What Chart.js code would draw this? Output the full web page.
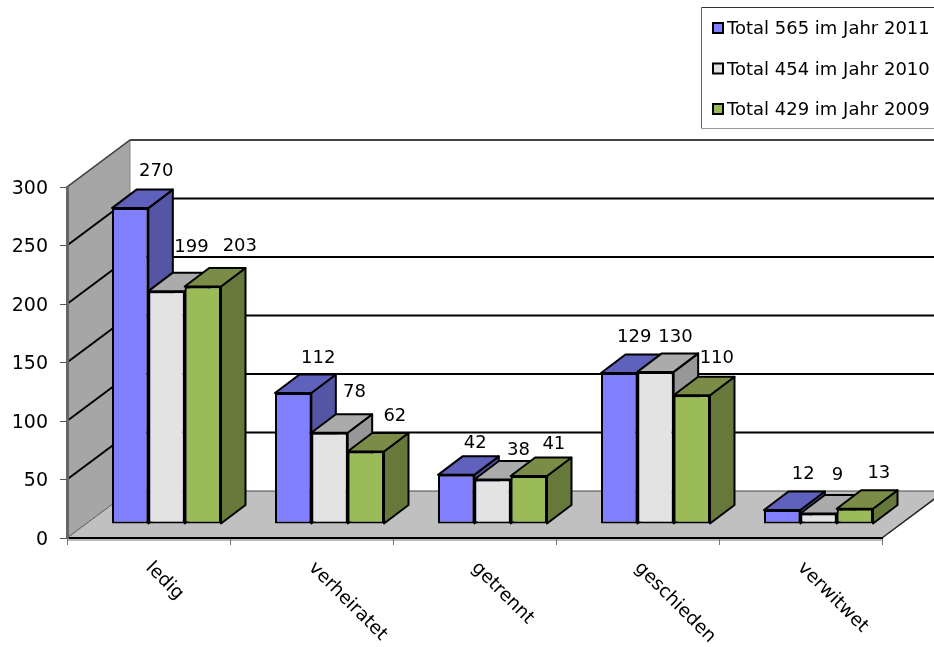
<!DOCTYPE html>
<html>
<head>
<meta charset="utf-8">
<title>Familienstand</title>
<script src="https://cdn.jsdelivr.net/npm/chart.js@4"></script>
<style>
    body { margin: 0; background: #fff; }
    canvas { display: block; }
</style>
</head>
<body>
<canvas id="statusChart" width="934" height="647"></canvas>
<script>
const categories = ['ledig', 'verheiratet', 'getrennt', 'geschieden', 'verwitwet'];
const seriesLabels = ['Total 565 im Jahr 2011', 'Total 454 im Jahr 2010', 'Total 429 im Jahr 2009'];
const values2011 = [270, 112, 42, 129, 12];
const values2010 = [199, 78, 38, 130, 9];
const values2009 = [203, 62, 41, 110, 13];

const fontFamily = '"DejaVu Sans", sans-serif';
const frontColors = ['#8080ff', '#e3e3e3', '#9bbb59'];
const topColors = ['#6060bd', '#ababab', '#7a8c45'];
const sideColors = ['#5555a6', '#979797', '#66783a'];

// depth of the floor, where the bars stand on it, and how deep one bar is
const wall = { dx: 63, dy: -47 };
const barShift = { dx: 18, dy: -14 };
const barDepth = { dx: 24.5, dy: -18.5 };

// hand-placed value labels: [x, y] moved from the default spot, per series and category
const labelNudges = [
    [[2, -1], [1, 1], [-5, 4], [-9, 0], [-3, 0]],
    [[1, -8], [1, -4], [2, 7], [-4, 1], [-5, -2]],
    [[13, -4], [5, 1], [1, 4], [1, -1], [0, 1]]
];

function polygon(ctx, points, fill, stroke, lineWidth) {
    ctx.beginPath();
    points.forEach(([x, y], i) => (i ? ctx.lineTo(x, y) : ctx.moveTo(x, y)));
    ctx.closePath();
    ctx.fillStyle = fill;
    ctx.fill();
    if (stroke) {
        ctx.strokeStyle = stroke;
        ctx.lineWidth = lineWidth;
        ctx.stroke();
    }
}

function line(ctx, x1, y1, x2, y2, color, width) {
    ctx.beginPath();
    ctx.moveTo(x1, y1);
    ctx.lineTo(x2, y2);
    ctx.strokeStyle = color;
    ctx.lineWidth = width;
    ctx.stroke();
}

const box3d = {
    id: 'box3d',
    // left wall, floor and grid lines behind everything
    beforeDraw(chart) {
        const { ctx, chartArea: { left, right, top, bottom }, scales: { y } } = chart;
        ctx.save();
        polygon(ctx, [[left, top], [left + wall.dx, top + wall.dy], [left + wall.dx, bottom + wall.dy], [left, bottom]], '#a6a6a6');
        polygon(ctx, [[left, bottom], [left + wall.dx, bottom + wall.dy], [right + wall.dx, bottom + wall.dy], [right, bottom]], '#c0c0c0');
        line(ctx, left + wall.dx, bottom + wall.dy, right + wall.dx, bottom + wall.dy, '#444', 1);
        line(ctx, right, bottom, right + wall.dx, bottom + wall.dy, '#222', 1.5);
        line(ctx, left, bottom, left + wall.dx, bottom + wall.dy, '#555', 1);
        line(ctx, left, top, left + wall.dx, top + wall.dy, '#666', 1.5);
        line(ctx, left + wall.dx, top + wall.dy, left + wall.dx, bottom + wall.dy, '#888', 1);
        y.ticks.forEach(({ value }) => {
            if (value === 0) return;
            const py = y.getPixelForValue(value);
            const color = value === 300 ? '#444' : '#000';
            line(ctx, left, py, left + wall.dx, py + wall.dy, color, value === 300 ? 1.5 : 2);
            line(ctx, left + wall.dx, py + wall.dy, right + wall.dx, py + wall.dy, color, 2);
        });
        line(ctx, left, bottom + 2, right, bottom + 2, '#bbb', 2);
        ctx.restore();
    },
    // replaced by beforeDatasetsDraw so that the series paint left to right
    beforeDatasetDraw() {
        return false;
    },
    beforeDatasetsDraw(chart) {
        const { ctx } = chart;
        chart.getSortedVisibleDatasetMetas().forEach((meta) => {
            ctx.save();
            ctx.translate(barShift.dx, barShift.dy);
            meta.controller.draw();
            meta.data.forEach((bar) => {
                const { x, y, base, width } = bar.getProps(['x', 'y', 'base', 'width'], true);
                const l = x - width / 2;
                const r = x + width / 2;
                const { dx, dy } = barDepth;
                ctx.lineJoin = 'round';
                polygon(ctx, [[r, y], [r + dx, y + dy], [r + dx, base + dy], [r, base]], sideColors[meta.index], '#000', 2);
                polygon(ctx, [[l, y], [l + dx, y + dy], [r + dx, y + dy], [r, y]], topColors[meta.index], '#000', 2);
            });
            ctx.restore();
        });
    },
    afterDraw(chart) {
        const { ctx, scales: { x, y } } = chart;
        ctx.save();
        ctx.fillStyle = '#000';

        // value labels above each bar
        ctx.font = `18px ${fontFamily}`;
        ctx.textAlign = 'center';
        ctx.textBaseline = 'middle';
        chart.getSortedVisibleDatasetMetas().forEach((meta) => {
            meta.data.forEach((bar, i) => {
                const value = chart.data.datasets[meta.index].data[i];
                const [nx, ny] = labelNudges[meta.index][i];
                ctx.fillText(String(value), bar.x + barShift.dx + 24 + nx, bar.y + barShift.dy - 36 + ny);
            });
        });

        // y tick labels, set a touch below the middle baseline
        ctx.font = `19px ${fontFamily}`;
        ctx.textAlign = 'right';
        y.ticks.forEach((tick) => {
            ctx.fillText(tick.label, 48, y.getPixelForValue(tick.value) + 2);
        });

        // slanted category names
        ctx.font = `18.5px ${fontFamily}`;
        ctx.textAlign = 'left';
        categories.forEach((name, i) => {
            ctx.save();
            ctx.translate(x.getPixelForTick(i), 565);
            ctx.rotate(Math.PI / 4);
            ctx.fillText(name, 0, 0);
            ctx.restore();
        });

        // legend box in the top right corner
        ctx.fillStyle = '#fff';
        ctx.fillRect(701.5, 7.5, 240, 121);
        line(ctx, 701.5, 7.5, 934, 7.5, '#333', 1);
        line(ctx, 701.5, 7.5, 701.5, 128.5, '#666', 1);
        line(ctx, 701.5, 128.5, 934, 128.5, '#999', 1);
        ctx.font = `18px ${fontFamily}`;
        ctx.textBaseline = 'alphabetic';
        seriesLabels.forEach((label, i) => {
            const rowY = 29 + i * 40.5;
            ctx.fillStyle = frontColors[i];
            ctx.fillRect(713, rowY - 6, 10, 10);
            ctx.strokeStyle = '#000';
            ctx.lineWidth = 2;
            ctx.strokeRect(713, rowY - 6, 10, 10);
            ctx.fillStyle = '#000';
            ctx.fillText(label, 727, rowY + 5);
        });
        ctx.restore();
    }
};

new Chart(document.getElementById('statusChart'), {
    type: 'bar',
    data: {
        labels: categories,
        datasets: [
            { label: seriesLabels[0], data: values2011, backgroundColor: frontColors[0] },
            { label: seriesLabels[1], data: values2010, backgroundColor: frontColors[1] },
            { label: seriesLabels[2], data: values2009, backgroundColor: frontColors[2] }
        ]
    },
    options: {
        responsive: false,
        animation: false,
        layout: { padding: { top: 187, right: 52 } },
        datasets: {
            bar: {
                barPercentage: 1,
                categoryPercentage: 0.6687,
                borderColor: '#000',
                borderWidth: 2,
                borderSkipped: false
            }
        },
        scales: {
            x: {
                ticks: { display: false },
                grid: { drawOnChartArea: false, tickLength: 7, tickColor: '#777' },
                border: { color: '#000', width: 2 },
                afterFit: (scale) => { scale.height = 109; }
            },
            y: {
                min: 0,
                max: 300,
                ticks: { stepSize: 50, display: false },
                grid: { drawOnChartArea: false, tickLength: 7, tickColor: '#555' },
                border: { color: '#666', width: 3 },
                afterFit: (scale) => { scale.width = 67; }
            }
        },
        plugins: {
            legend: { display: false },
            tooltip: { enabled: false }
        }
    },
    plugins: [box3d]
});
</script>
</body>
</html>
